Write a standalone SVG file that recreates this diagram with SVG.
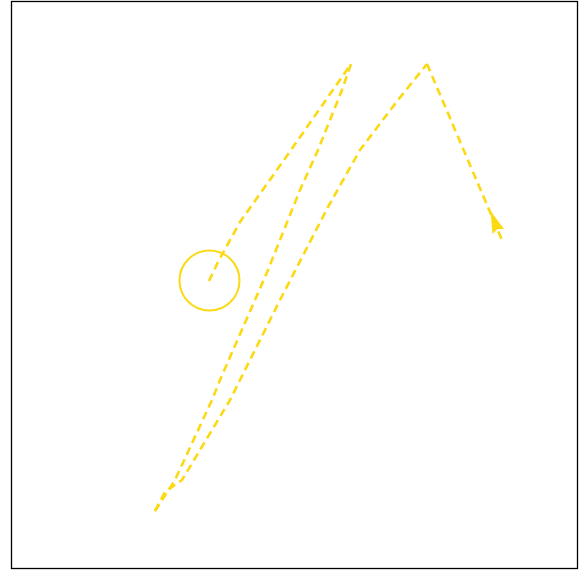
<svg xmlns="http://www.w3.org/2000/svg" width="582" height="570" viewBox="0 0 582 570">
<style>
.edge{fill:none;stroke:#fcd913;stroke-width:2.6;stroke-dasharray:8,5;stroke-linejoin:round}
</style>
<rect x="0" y="0" width="582" height="570" fill="#ffffff"/>
<rect x="11.5" y="1.5" width="566" height="567" fill="none" stroke="#000" stroke-width="1.3"/>
<g id="node1">
<circle cx="209.5" cy="280.5" r="30" fill="none" stroke="#fcd913" stroke-width="2"/>
</g>
<g id="connectors">
<path class="edge" d="M209,281 L218,262 L240,222 L291,150 L351,64"/>
<path class="edge" d="M351,64 L342,90 L318,150 L300,190 L268,270 L255,300 L220,380 L212,400 L175,480 L155,511"/>
<path class="edge" d="M155,511 L165,492 L172,487 L182,480 L230,400 L240,380 L280,300 L328,207 L360,150 L398,100 L427,64"/>
<path class="edge" d="M427,64 L502,240"/>
<polygon points="490.5,211 504,229 497.5,229 492.5,234" fill="#fcd913"/>
</g>
</svg>
